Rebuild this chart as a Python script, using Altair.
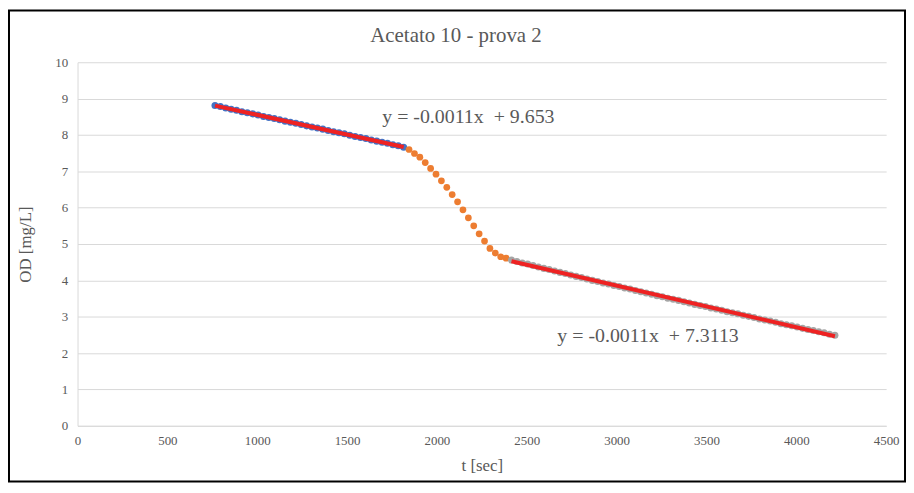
import altair as alt
import pandas as pd

# time sampling (seconds)
blue_t0, blue_t1 = 765, 1815
orange_t0, orange_t1 = 1845, 2385
gray_t0, gray_t1 = 2415, 4215
step = 30

blue_od = [8.81, 8.78, 8.74, 8.71, 8.68, 8.64, 8.61, 8.58, 8.55, 8.51,
           8.48, 8.45, 8.42, 8.38, 8.35, 8.32, 8.29, 8.25, 8.22, 8.19,
           8.16, 8.12, 8.09, 8.06, 8.03, 7.99, 7.96, 7.93, 7.90, 7.86,
           7.83, 7.80, 7.77, 7.73, 7.70, 7.66]
orange_od = [7.60, 7.49, 7.39, 7.24, 7.08, 6.92, 6.74, 6.56, 6.36, 6.16,
             5.94, 5.72, 5.50, 5.28, 5.08, 4.88, 4.75, 4.65, 4.61]
gray_od = [4.56, 4.52, 4.48, 4.45, 4.41, 4.37, 4.33, 4.30, 4.26, 4.22,
           4.19, 4.15, 4.11, 4.08, 4.04, 4.00, 3.97, 3.93, 3.90, 3.86,
           3.83, 3.79, 3.76, 3.72, 3.69, 3.65, 3.62, 3.58, 3.55, 3.51,
           3.48, 3.45, 3.41, 3.38, 3.34, 3.31, 3.28, 3.24, 3.21, 3.18,
           3.14, 3.11, 3.08, 3.04, 3.01, 2.98, 2.94, 2.91, 2.88, 2.85,
           2.81, 2.78, 2.75, 2.72, 2.68, 2.65, 2.62, 2.59, 2.56, 2.52, 2.49]

NB = "\u00a0"
eq_labels = [f"y{NB}={NB}-0.0011x{NB}{NB}+{NB}9.653", f"y{NB}={NB}-0.0011x{NB}{NB}+{NB}7.3113"]
eq_x = [2175, 3175]
eq_y = [8.50, 2.46]
chart_title = "Acetato 10 - prova 2"

x_ticks = [0, 500, 1000, 1500, 2000, 2500, 3000, 3500, 4000, 4500]
y_ticks = [0, 1, 2, 3, 4, 5, 6, 7, 8, 9, 10]

blue_df = pd.DataFrame({"t": list(range(blue_t0, blue_t1 + 1, step)), "od": blue_od})
orange_df = pd.DataFrame({"t": list(range(orange_t0, orange_t1 + 1, step)), "od": orange_od})
gray_df = pd.DataFrame({"t": list(range(gray_t0, gray_t1 + 1, step)), "od": gray_od})
eq_df = pd.DataFrame({"label": eq_labels, "t": eq_x, "od": eq_y})

FONT = "Liberation Serif"
GRID = "#D9D9D9"
TXT = "#595959"
RED = "#EE2222"

xs = alt.X("t:Q", scale=alt.Scale(domain=[0, 4500], nice=False),
           axis=alt.Axis(values=x_ticks, format="d", title="t [sec]",
                         grid=False, ticks=False, labelPadding=9, labelFlush=False,
                         titlePadding=10, domainColor=GRID))
ys = alt.Y("od:Q", scale=alt.Scale(domain=[0, 10], nice=False),
           axis=alt.Axis(values=y_ticks, format="d", title="OD [mg/L]",
                         grid=True, gridColor=GRID, ticks=False, labelFlush=False,
                         labelPadding=10, titlePadding=20, domainColor=GRID))

blue = alt.Chart(blue_df).mark_circle(size=50, color="#4472C4", opacity=1).encode(x=xs, y=ys)
blue_fit = alt.Chart(blue_df).transform_regression("t", "od").mark_line(
    color=RED, strokeWidth=4).encode(x=xs, y=ys)
orange = alt.Chart(orange_df).mark_circle(size=46, color="#ED7D31", opacity=1).encode(x=xs, y=ys)
gray = alt.Chart(gray_df).mark_circle(size=50, color="#A5A5A5", opacity=1).encode(x=xs, y=ys)
gray_fit = alt.Chart(gray_df).transform_regression("t", "od").mark_line(
    color=RED, strokeWidth=4).encode(x=xs, y=ys)
eqs = alt.Chart(eq_df).mark_text(font=FONT, fontSize=20, color=TXT).encode(
    x=xs, y=ys, text="label:N")

one = pd.DataFrame({"k": [0]})
title_mark = alt.Chart(one).mark_text(
    text=chart_title, font=FONT, fontSize=21, color=TXT, align="center", baseline="middle"
).encode(x=alt.value(381), y=alt.value(-26))

border = alt.Chart(one).mark_rect(
    fill=None, filled=False, stroke="#000000", strokeWidth=2).encode(
    x=alt.value(-69), x2=alt.value(833), y=alt.value(-52), y2=alt.value(422))

chart = alt.layer(blue, blue_fit, orange, gray, gray_fit, eqs, title_mark, border).properties(
    width=814, height=366,
    autosize=alt.AutoSizeParams(type="none"),
    padding={"left": 70, "top": 53, "right": 20, "bottom": 60},
    background="white",
).configure_axis(
    labelFont=FONT, titleFont=FONT, labelColor=TXT, titleColor=TXT,
    labelFontSize=13, titleFontSize=17, titleFontWeight="normal",
).configure_view(stroke=None)

chart.save("out.html", embed_options={"renderer": "svg", "actions": False})
